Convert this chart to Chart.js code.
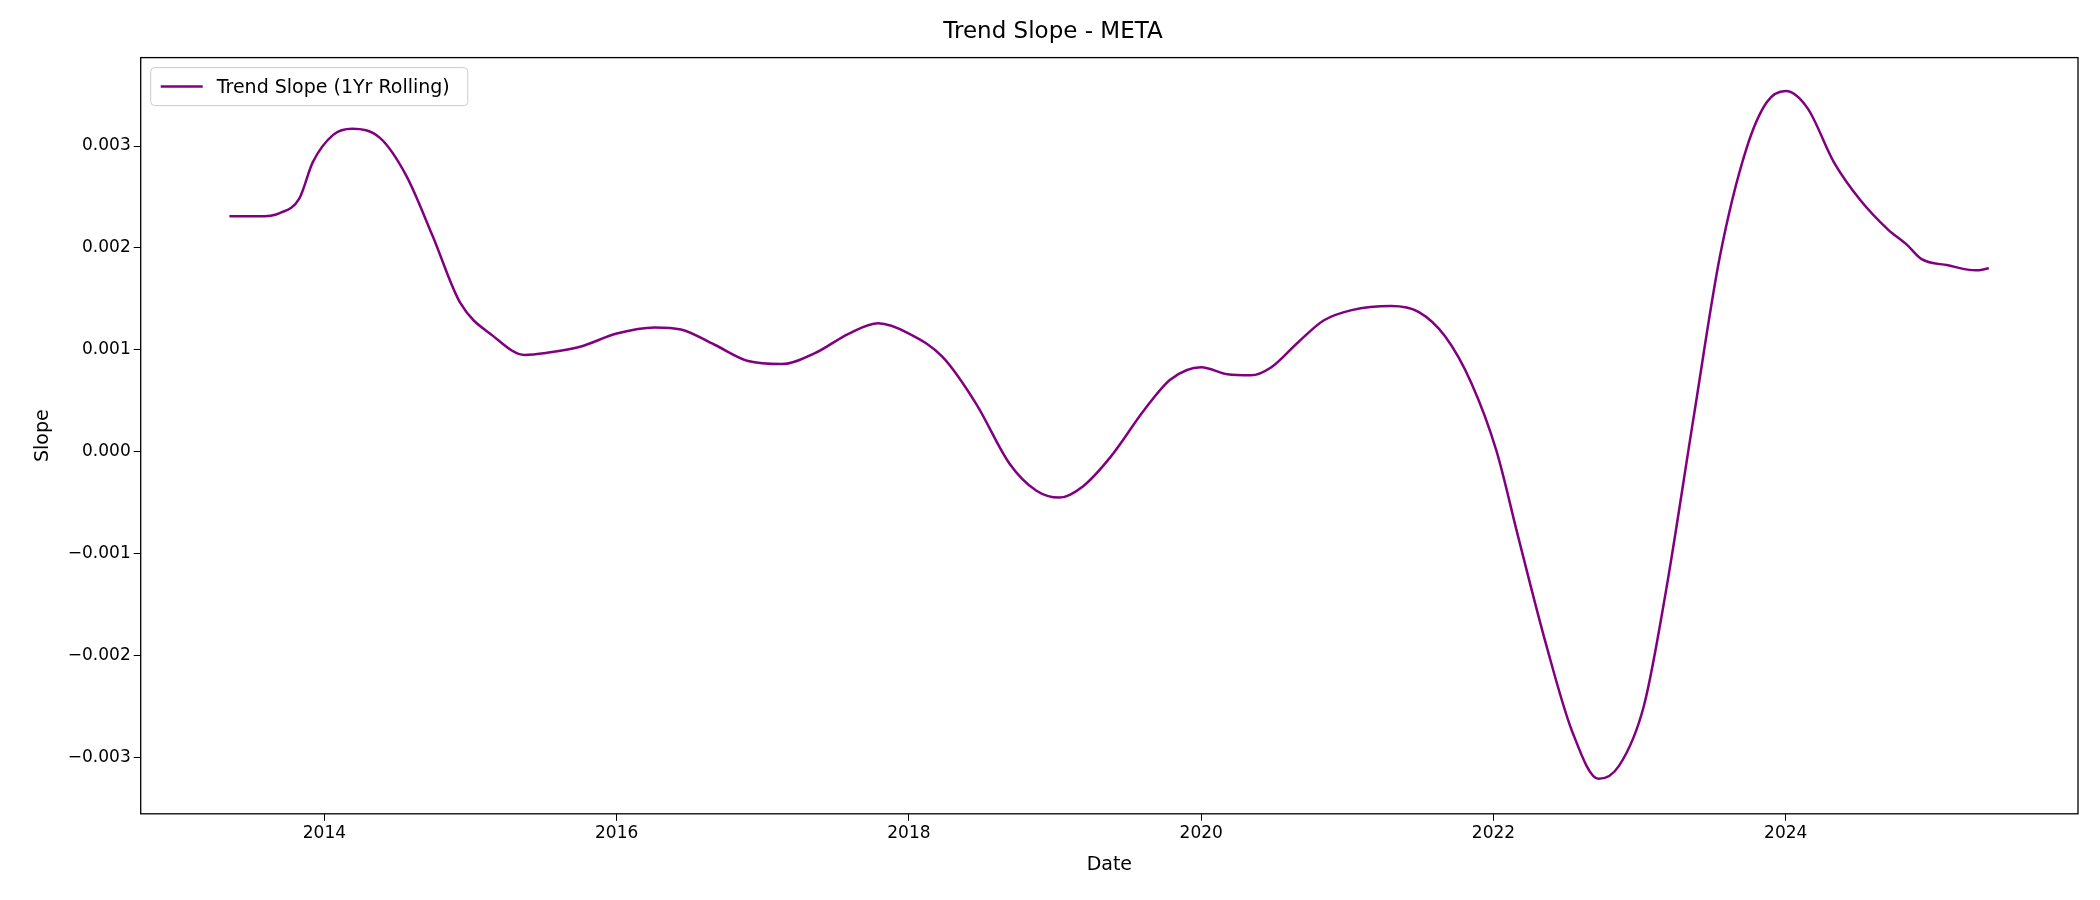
<!DOCTYPE html>
<html>
<head>
<meta charset="utf-8">
<script src="https://cdn.jsdelivr.net/npm/chart.js@4"></script>
<style>
  body { margin: 0; background: #fff; }
  canvas { display: block; }
</style>
</head>
<body>
<canvas id="chart" width="2100" height="900"></canvas>
<script>
// Decimal years and slope values
const years = [2013.35, 2013.55, 2013.69, 2013.83, 2013.92, 2014.06, 2014.19, 2014.38, 2014.56, 2014.74,
  2014.93, 2015.16, 2015.37, 2015.52, 2015.75, 2016.0, 2016.26, 2016.44, 2016.67, 2016.9,
  2017.13, 2017.36, 2017.59, 2017.79, 2018.0, 2018.23, 2018.46, 2018.69, 2018.87, 2019.03,
  2019.19, 2019.38, 2019.61, 2019.79, 2020.0, 2020.18, 2020.34, 2020.48, 2020.66, 2020.84,
  2021.03, 2021.3, 2021.49, 2021.67, 2021.85, 2022.02, 2022.17, 2022.36, 2022.54, 2022.72,
  2022.86, 2023.03, 2023.18, 2023.37, 2023.55, 2023.73, 2023.87, 2024.0, 2024.15, 2024.33,
  2024.51, 2024.7, 2024.83, 2024.93, 2025.11, 2025.3, 2025.39];
const slopes = [0.00231, 0.00231, 0.00234, 0.00249, 0.00284, 0.00311, 0.00317, 0.00308, 0.00271, 0.00212,
  0.00146, 0.00113, 0.00095, 0.00097, 0.00103, 0.00116, 0.00122, 0.0012, 0.00105, 0.00089,
  0.00086, 0.00097, 0.00116, 0.00126, 0.00116, 0.00093, 0.00047, -0.00012, -0.00038, -0.00045,
  -0.00034, -0.00005, 0.00041, 0.00071, 0.00083, 0.00076, 0.00075, 0.00083, 0.00107, 0.00129,
  0.00139, 0.00143, 0.00137, 0.00113, 0.00067, 0.00001, -0.00084, -0.00189, -0.00275, -0.00321,
  -0.00308, -0.00249, -0.00137, 0.00034, 0.00192, 0.00297, 0.00343, 0.00354, 0.00337, 0.00284,
  0.00247, 0.00218, 0.00203, 0.00189, 0.00183, 0.00178, 0.0018];
const xTicks = [2014, 2016, 2018, 2020, 2022, 2024];
const yTicks = [-0.003, -0.002, -0.001, 0, 0.001, 0.002, 0.003];

const font = "'DejaVu Sans', sans-serif";
const lineColor = "#800080";

// legend drawn inside the plot area, top-left
const innerLegend = {
  id: "innerLegend",
  afterDraw(chart) {
    const ctx = chart.ctx, a = chart.chartArea;
    const label = chart.data.datasets[0].label;
    ctx.save();
    ctx.font = "19px " + font;
    const w = ctx.measureText(label).width + 84, h = 38;
    const x = a.left + 10, y = a.top + 10;
    ctx.fillStyle = "rgba(255,255,255,0.8)";
    ctx.strokeStyle = "#cccccc";
    ctx.lineWidth = 1;
    ctx.beginPath();
    ctx.roundRect(x, y, w, h, 4);
    ctx.fill(); ctx.stroke();
    ctx.strokeStyle = lineColor;
    ctx.lineWidth = 2.5;
    ctx.beginPath();
    ctx.moveTo(x + 10, y + h / 2); ctx.lineTo(x + 52, y + h / 2);
    ctx.stroke();
    ctx.fillStyle = "#000";
    ctx.textBaseline = "middle";
    ctx.fillText(label, x + 66, y + h / 2 + 1);
    ctx.restore();
  }
};

// full box round the plot area
const frame = {
  id: "frame",
  afterDraw(chart) {
    const ctx = chart.ctx, a = chart.chartArea;
    ctx.save();
    ctx.strokeStyle = "#000";
    ctx.lineWidth = 1.3;
    ctx.strokeRect(a.left, a.top, a.right - a.left, a.bottom - a.top);
    ctx.restore();
  }
};

new Chart(document.getElementById("chart").getContext("2d"), {
  type: "line",
  data: {
    datasets: [{
      label: "Trend Slope (1Yr Rolling)",
      data: years.map((x, i) => ({ x: x, y: slopes[i] })),
      borderColor: lineColor,
      borderWidth: 2.5,
      pointRadius: 0,
      cubicInterpolationMode: "monotone",
      fill: false
    }]
  },
  options: {
    responsive: false,
    animation: false,
    layout: { padding: { left: 28, right: 22, top: 10, bottom: 20 } },
    plugins: {
      legend: { display: false },
      tooltip: { enabled: false },
      title: {
        display: true,
        text: "Trend Slope - META",
        color: "#000",
        font: { family: font, size: 23, weight: "normal" },
        padding: { top: 8, bottom: 12 }
      }
    },
    scales: {
      x: {
        type: "linear",
        min: 2012.743,
        max: 2026.0,
        afterBuildTicks: axis => { axis.ticks = xTicks.map(v => ({ value: v })); },
        ticks: { color: "#000", font: { family: font, size: 17 }, maxRotation: 0, callback: v => String(v) },
        grid: { drawOnChartArea: false, drawTicks: true, tickLength: 7, color: "#000" },
        border: { display: false },
        title: { display: true, text: "Date", color: "#000", font: { family: font, size: 19 }, padding: { top: 6 } }
      },
      y: {
        min: -0.003553,
        max: 0.003868,
        afterBuildTicks: axis => { axis.ticks = yTicks.map(v => ({ value: v })); },
        ticks: {
          color: "#000",
          font: { family: font, size: 17 },
          callback: v => (v < 0 ? "\u2212" : "") + Math.abs(v).toFixed(3)
        },
        grid: { drawOnChartArea: false, drawTicks: true, tickLength: 7, color: "#000" },
        border: { display: false },
        title: { display: true, text: "Slope", color: "#000", font: { family: font, size: 19 }, padding: { bottom: 10 } }
      }
    }
  },
  plugins: [innerLegend, frame]
});
</script>
</body>
</html>
